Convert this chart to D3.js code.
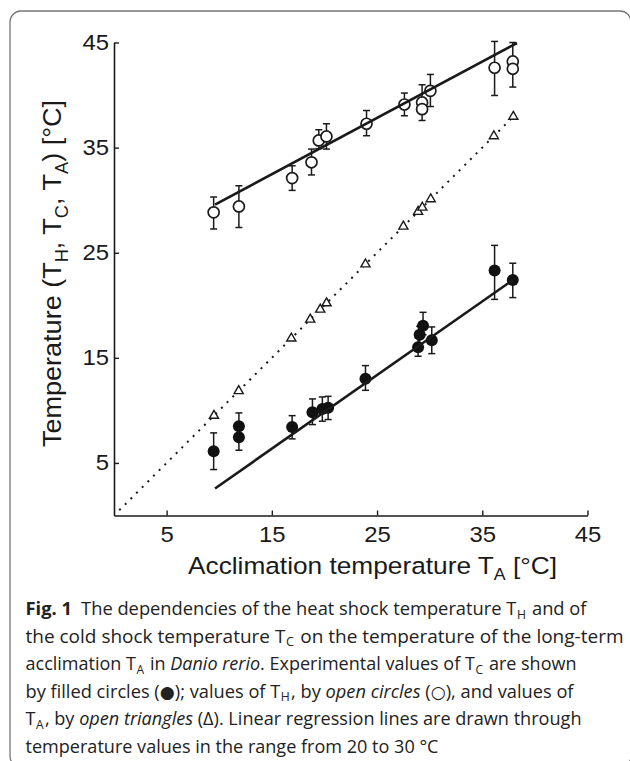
<!DOCTYPE html>
<html><head><meta charset="utf-8">
<script src="https://cdn.jsdelivr.net/npm/d3@7"></script>
<style>
body{margin:0;background:#fff}
svg{display:block}
</style>
</head><body>
<svg id="chart" width="630" height="761"></svg>
<script>
// ---- data ----
const xTicks = [5, 15, 25, 35, 45];
const yTicks = [5, 15, 25, 35, 45];

// Heat shock temperature T_H (open circles)
const thX  = [9.47, 11.87, 16.93, 18.77, 19.46, 20.19, 24.0, 27.6, 29.28, 29.28, 30.07, 36.17, 37.9, 37.9];
const thY  = [28.84, 29.4, 32.1, 33.6, 35.68, 36.06, 37.27, 39.1, 39.3, 38.66, 40.4, 42.6, 43.2, 42.5];
const thLo = [27.26, 27.4, 30.93, 32.4, 34.9, 34.86, 36.13, 38.03, 38.5, 37.58, 38.91, 39.96, 42.4, 40.76];
const thHi = [30.3, 31.37, 33.27, 34.86, 36.7, 37.27, 38.53, 40.19, 40.98, 39.5, 41.96, 45.1, 45.0, 43.3];

// Cold shock temperature T_C (filled circles)
const tcX  = [9.47, 11.87, 11.87, 16.93, 18.86, 19.8, 20.35, 23.9, 28.9, 29.05, 29.37, 30.2, 36.17, 37.9];
const tcY  = [6.11, 8.49, 7.44, 8.43, 9.82, 10.14, 10.24, 13.0, 16.0, 17.2, 18.06, 16.67, 23.3, 22.4];
const tcLo = [4.37, 7.6, 6.21, 7.29, 8.65, 8.97, 9.13, 11.91, 15.15, 16.4, 17.2, 15.4, 20.56, 20.73];
const tcHi = [7.86, 9.76, 8.3, 9.5, 11.09, 11.28, 11.34, 14.26, 16.9, 18.0, 19.33, 17.94, 25.7, 24.0];

// Acclimation temperature T_A (open triangles)
const taX = [9.5, 11.85, 16.85, 18.65, 19.6, 20.2, 23.9, 27.5, 28.9, 29.3, 30.1, 36.1, 37.95];
const taY = [9.5, 11.85, 16.85, 18.65, 19.6, 20.2, 23.9, 27.5, 28.9, 29.3, 30.1, 36.1, 37.95];

// Regression / identity lines (end points in data units)
const thLineX = [9.6, 38.3],  thLineY = [29.57, 44.95];
const tcLineX = [9.6, 37.9],  tcLineY = [2.57, 22.4];
const taLineX = [0.5, 37.95], taLineY = [0.5, 37.95];

// ---- drawing ----
const svg = d3.select('#chart');
const ink = '#1a1a1a';

// frame
svg.append('rect')
  .attr('x', 10).attr('y', 11).attr('width', 621).attr('height', 756)
  .attr('rx', 11).attr('ry', 11)
  .attr('fill', 'none').attr('stroke', '#777').attr('stroke-width', 1.3);

const x = d3.scaleLinear().domain([0, 45]).range([114, 587.5]);
const y = d3.scaleLinear().domain([0, 45]).range([515.5, 42.5]);

const g = svg.append('g');

// axes
const xAxis = d3.axisBottom(x).tickValues(xTicks).tickSizeInner(-5).tickSizeOuter(0).tickPadding(11);
const yAxis = d3.axisLeft(y).tickValues(yTicks).tickSizeInner(-5).tickSizeOuter(0).tickPadding(5);

const gx = g.append('g').attr('transform', `translate(0,${y(0)})`).call(xAxis);
const gy = g.append('g').attr('transform', `translate(${x(0)},0)`).call(yAxis);
[gx, gy].forEach(a => {
  a.attr('font-family', null).attr('font-size', null);
  a.select('.domain').attr('stroke', ink).attr('stroke-width', 1.6);
  a.selectAll('.tick line').attr('stroke', ink).attr('stroke-width', 1.4);
  a.selectAll('.tick text')
    .attr('fill', ink)
    .attr('textLength', d => String(d).length * 13.3)
    .attr('lengthAdjust', 'spacingAndGlyphs')
    .style('font-family', '"Liberation Sans", Arial, sans-serif')
    .style('font-size', '22px');
});

// axis titles
const titleFont = '"Liberation Sans", Arial, sans-serif';
const xt = svg.append('text')
  .attr('x', 188).attr('y', 574)
  .attr('text-anchor', 'start')
  .attr('textLength', 369).attr('lengthAdjust', 'spacingAndGlyphs')
  .style('font-family', titleFont)
  .style('font-size', '23.7px').attr('fill', ink);
xt.append('tspan').text('Acclimation temperature T');
xt.append('tspan').attr('dy', 6).style('font-size', '16px').text('A');
xt.append('tspan').attr('dy', -6).text(' [°C]');

const yt = svg.append('text')
  .attr('transform', `translate(61,447) rotate(-90)`)
  .attr('text-anchor', 'start')
  .attr('textLength', 347).attr('lengthAdjust', 'spacingAndGlyphs')
  .style('font-family', titleFont)
  .style('font-size', '26px').attr('fill', ink);
const ytParts = [['Temperature (T', 0], ['H', 1], [', T', 0], ['C', 1], [', T', 0], ['A', 1], [') [°C]', 0]];
let prevSub = 0;
ytParts.forEach(([t, sub]) => {
  const ts = yt.append('tspan').text(t);
  const dy = (sub - prevSub) * 6.5;
  if (dy) ts.attr('dy', dy);
  if (sub) ts.style('font-size', '17.5px');
  prevSub = sub;
});

// identity dotted line (T_A)
const line = d3.line().x(d => x(d[0])).y(d => y(d[1]));
g.append('path')
  .datum(d3.zip(taLineX, taLineY))
  .attr('d', line)
  .attr('fill', 'none').attr('stroke', ink)
  .attr('stroke-width', 2).attr('stroke-dasharray', '2,6');

// error bars
function errorBars(xs, lo, hi) {
  const eb = g.append('g').attr('stroke', ink).attr('stroke-width', 1.5);
  xs.forEach((xv, i) => {
    eb.append('line').attr('x1', x(xv)).attr('x2', x(xv)).attr('y1', y(lo[i])).attr('y2', y(hi[i]));
    [lo[i], hi[i]].forEach(v => {
      eb.append('line').attr('x1', x(xv) - 3.5).attr('x2', x(xv) + 3.5).attr('y1', y(v)).attr('y2', y(v));
    });
  });
}
errorBars(thX, thLo, thHi);
errorBars(tcX, tcLo, tcHi);

// triangles
const tri = d3.symbol().type(d3.symbolTriangle).size(36);
g.append('g').selectAll('path').data(d3.zip(taX, taY)).join('path')
  .attr('d', tri)
  .attr('transform', d => `translate(${x(d[0])},${y(d[1])})`)
  .attr('fill', '#fff').attr('stroke', ink).attr('stroke-width', 1.4);

// open circles
g.append('g').selectAll('circle').data(d3.zip(thX, thY)).join('circle')
  .attr('cx', d => x(d[0])).attr('cy', d => y(d[1])).attr('r', 5.5)
  .attr('fill', '#fff').attr('stroke', ink).attr('stroke-width', 1.7);

// filled circles
g.append('g').selectAll('circle').data(d3.zip(tcX, tcY)).join('circle')
  .attr('cx', d => x(d[0])).attr('cy', d => y(d[1])).attr('r', 6)
  .attr('fill', '#111');

// regression lines
[[thLineX, thLineY], [tcLineX, tcLineY]].forEach(([lx, ly]) => {
  g.append('path').datum(d3.zip(lx, ly)).attr('d', line)
    .attr('fill', 'none').attr('stroke', ink).attr('stroke-width', 2.6);
});

// caption
const capLines = [
  [['Fig. 1', 'b'], ['\u2002The dependencies of the heat shock temperature T', ''], ['H', 's'], [' and of', '']],
  [['the cold shock temperature T', ''], ['C', 's'], [' on the temperature of the long-term', '']],
  [['acclimation T', ''], ['A', 's'], [' in ', ''], ['Danio rerio', 'i'], ['. Experimental values of T', ''], ['C', 's'], [' are shown', '']],
  [['by filled circles (', ''], ['\u25CF', 'g'], ['); values of T', ''], ['H', 's'], [', by ', ''], ['open circles', 'i'], [' (', ''], ['\u25CB', 'g'], ['), and values of', '']],
  [['T', ''], ['A', 's'], [', by ', ''], ['open triangles', 'i'], [' (\u0394). Linear regression lines are drawn through', '']],
  [['temperature values in the range from 20 to 30 \u00B0C', '']]
];
const capLen = [561, 598, 551, 548, 556, 413];
const cap = svg.append('g')
  .style('font-family', '"Open Sans", "Noto Sans", sans-serif')
  .style('font-size', '18px').attr('fill', '#222');
capLines.forEach((parts, li) => {
  const t = cap.append('text').attr('x', 25.5).attr('y', 615 + li * 27.5)
    .attr('textLength', capLen[li]).attr('lengthAdjust', 'spacingAndGlyphs');
  let inSub = false;
  parts.forEach(([txt, st]) => {
    const ts = t.append('tspan').text(txt);
    if (st === 'b') ts.style('font-weight', 700);
    if (st === 'i') ts.style('font-style', 'italic');
    if (st === 'g') ts.style('font-family', '"DejaVu Sans", sans-serif').style('font-size', '17px');
    if (st === 's') { ts.style('font-size', '12px').attr('dy', 3.5).attr('dx', 0.6); inSub = true; }
    else if (inSub) { ts.attr('dy', -3.5).attr('dx', 1.2); inSub = false; }
  });
});
</script>
</body></html>
